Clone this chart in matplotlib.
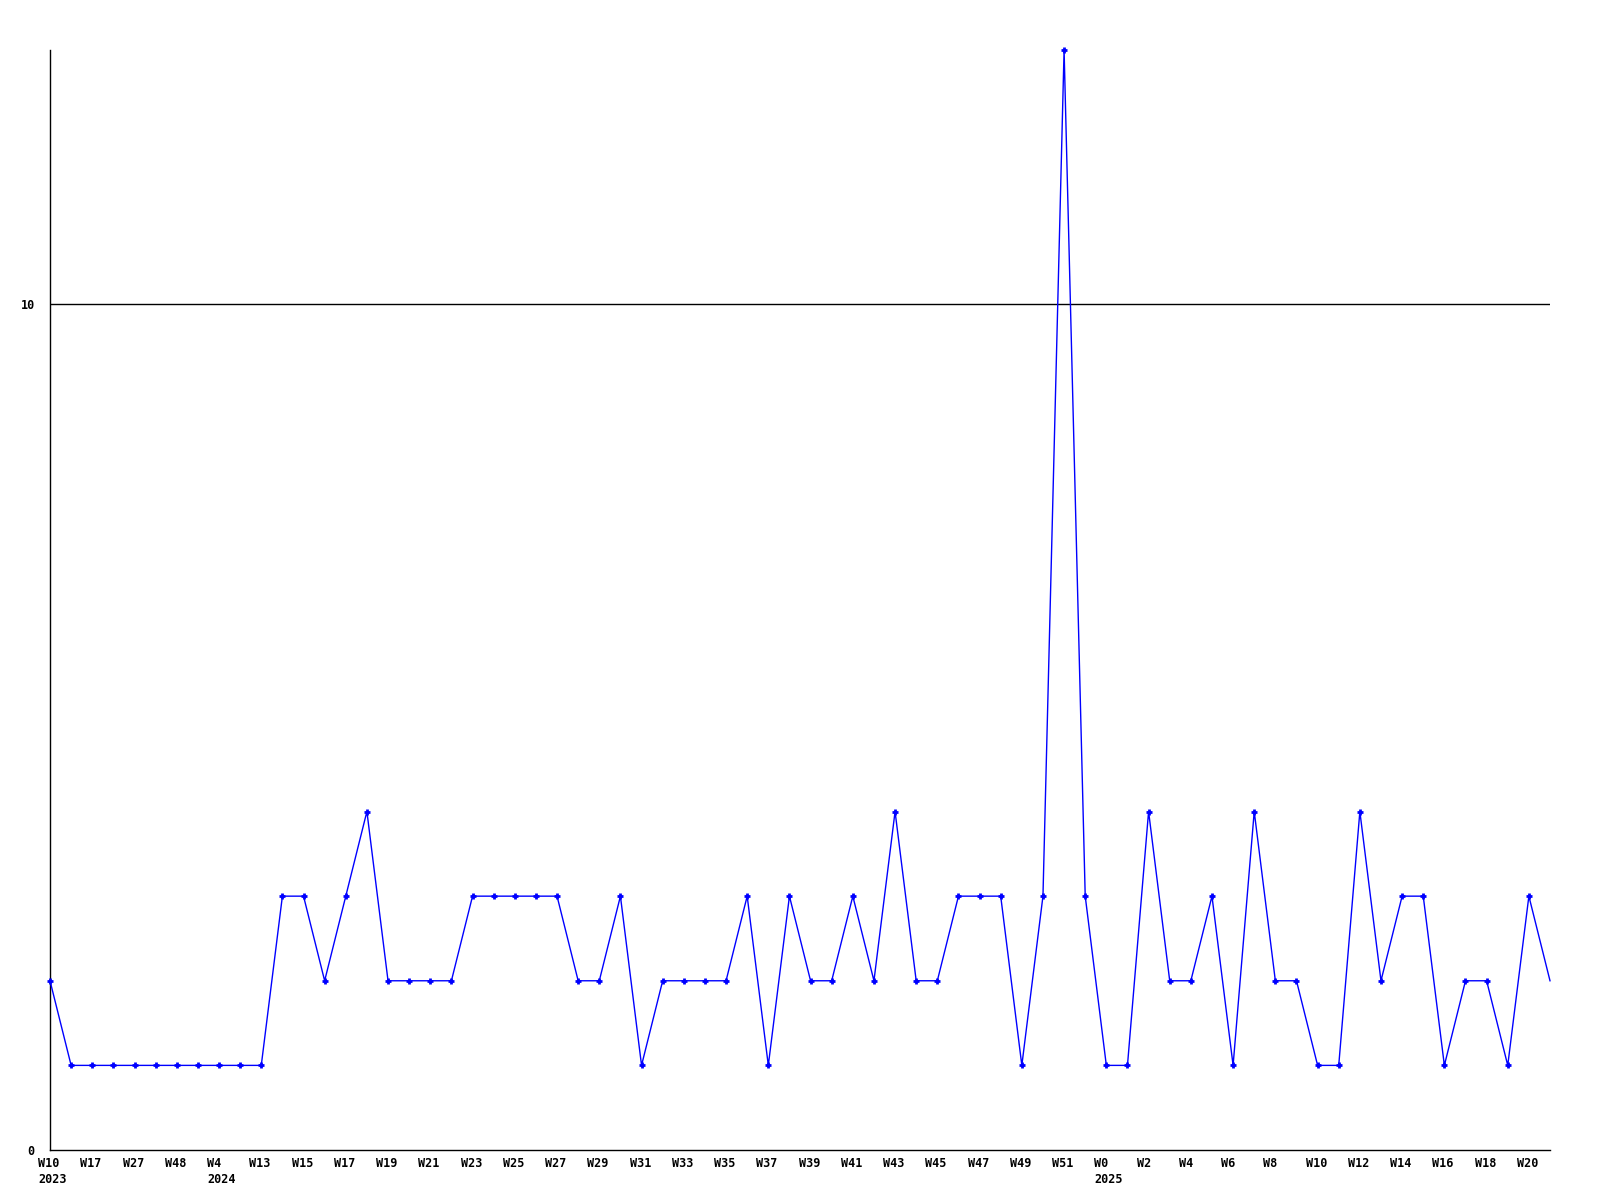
import matplotlib.pyplot as plt
from matplotlib.transforms import ScaledTranslation

weeks = ["W10", "W14", "W17", "W22", "W27", "W40", "W48", "W52",
         "W4", "W8"] + [f"W{w}" for w in range(13, 53)] + [f"W{w}" for w in range(0, 22)]
years = ["2023"] * 8 + ["2024"] * 42 + ["2025"] * 22
counts = [2, 1, 1, 1, 1, 1, 1, 1, 1, 1,
          1, 3, 3, 2, 3, 4, 2, 2, 2, 2,
          3, 3, 3, 3, 3, 2, 2, 3, 1, 2,
          2, 2, 2, 3, 1, 3, 2, 2, 3, 2,
          4, 2, 2, 3, 3, 3, 1, 3, 13, 3,
          1, 1, 4, 2, 2, 3, 1, 4, 2, 2,
          1, 1, 4, 2, 3, 3, 1, 2, 2, 1,
          3, 2]

fig = plt.figure(figsize=(16, 12), dpi=100)
ax = fig.add_axes([50 / 1600, 50 / 1200, 1500 / 1600, 1100 / 1200])

x = list(range(len(counts)))
ax.plot(x, counts, color='#0000ff', linewidth=1.0, marker='+', markersize=5,
        markeredgewidth=2, markevery=list(range(len(counts) - 1)), clip_on=False, zorder=3)

ax.set_xlim(0, len(counts) - 1)
ax.set_ylim(0, 13)
ax.axhline(10, color='black', linewidth=1.0, zorder=1)

for side in ['top', 'right']:
    ax.spines[side].set_visible(False)
for side in ['left', 'bottom']:
    ax.spines[side].set_linewidth(1.0)
    ax.spines[side].set_color('black')

ticks = x[::2]
labels = []
for i in ticks:
    if i == 0 or years[i] != years[i - 1]:
        labels.append(f"{weeks[i]}\n{years[i]}")
    else:
        labels.append(weeks[i])
ax.set_xticks(ticks)
ax.set_xticklabels(labels, ha='left', va='top', fontsize=8.5, fontweight='bold',
                   family='DejaVu Sans Mono', linespacing=1.3)
ax.set_yticks([0, 10])
ax.set_yticklabels(['0', '10'], fontsize=8.5, fontweight='bold', family='DejaVu Sans Mono')
ax.tick_params(axis='x', length=0, pad=5)
ax.tick_params(axis='y', length=0, pad=11)

shift = ScaledTranslation(-12 / 100, 0, fig.dpi_scale_trans)
for lbl in ax.get_xticklabels():
    lbl.set_transform(lbl.get_transform() + shift)

fig.savefig('out.png', dpi=100)
